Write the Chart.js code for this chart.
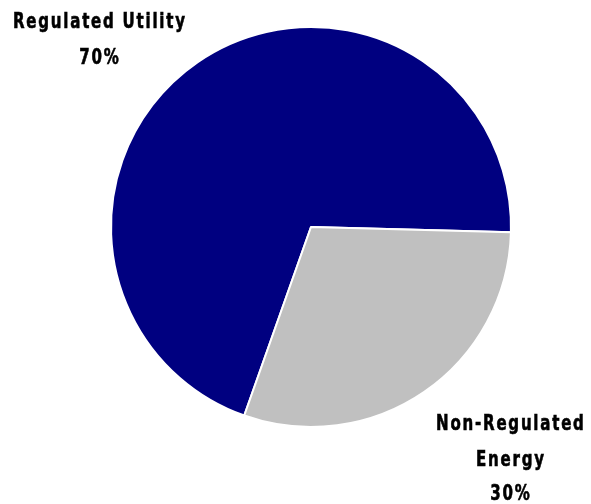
<!DOCTYPE html>
<html>
<head>
<meta charset="utf-8">
<script src="https://cdn.jsdelivr.net/npm/chart.js@4"></script>
<style>
html,body{margin:0;padding:0;background:#fff;}
#wrap{width:591px;height:504px;position:relative;}
</style>
</head>
<body>
<div id="wrap"><canvas id="c" width="591" height="504"></canvas></div>
<script>
const categories = ["Regulated Utility", "Non-Regulated Energy"];
const values = [70, 30];
const colors = ["#000080", "#C0C0C0"];
const labelLines = [["Regulated Utility", "70%"], ["Non-Regulated", "Energy", "30%"]];
const labelAnchors = [[99, [22, 58]], [510, [424, 460, 494]]];

function pickFont() {
  const c = document.createElement('canvas').getContext('2d');
  const cands = ['Liberation Sans Narrow', 'DejaVu Sans Condensed', 'Roboto Condensed', 'Open Sans Condensed'];
  const test = 'Regulated Utility 70%';
  for (const f of cands) {
    let diff = false;
    for (const g of ['monospace', 'serif']) {
      c.font = 'bold 40px ' + g;
      const a = c.measureText(test).width;
      c.font = 'bold 40px "' + f + '", ' + g;
      const b = c.measureText(test).width;
      if (Math.abs(a - b) > 0.5) diff = true; else { diff = false; break; }
    }
    if (diff) return '"' + f + '"';
  }
  return '"DejaVu Sans"';
}
const labelFont = pickFont();

const labelPlugin = {
  id: 'sliceLabels',
  afterDraw(chart) {
    const ctx = chart.ctx;
    const sx = 0.76;
    ctx.save();
    ctx.fillStyle = '#000';
    ctx.strokeStyle = '#000';
    ctx.lineWidth = 0.6;
    ctx.font = 'bold 22px ' + labelFont + ', sans-serif';
    try { ctx.fontStretch = 'condensed'; } catch (e) {}
    ctx.letterSpacing = '0px';
    const w0 = ctx.measureText('Regulated Utility').width;
    const ls = Math.max(0, (172 / sx - w0) / 16);
    ctx.letterSpacing = ls.toFixed(2) + 'px';
    ctx.textAlign = 'center';
    ctx.textBaseline = 'middle';
    labelLines.forEach((lines, i) => {
      const [x, ys] = labelAnchors[i];
      lines.forEach((t, j) => {
        ctx.save();
        ctx.translate(x, ys[j]);
        ctx.scale(sx, 1);
        ctx.fillText(t, ls / 2, 0);
        ctx.strokeText(t, ls / 2, 0);
        ctx.restore();
      });
    });
    ctx.restore();
  }
};

new Chart(document.getElementById('c'), {
  type: 'pie',
  data: {
    labels: categories,
    datasets: [{
      data: values,
      backgroundColor: colors,
      borderColor: '#ffffff',
      borderWidth: 2
    }]
  },
  options: {
    responsive: false,
    animation: false,
    rotation: 199.5,
    layout: { padding: { left: 110, top: 26, right: 79, bottom: 76 } },
    plugins: { legend: { display: false }, tooltip: { enabled: false } }
  },
  plugins: [labelPlugin]
});
</script>
</body>
</html>
